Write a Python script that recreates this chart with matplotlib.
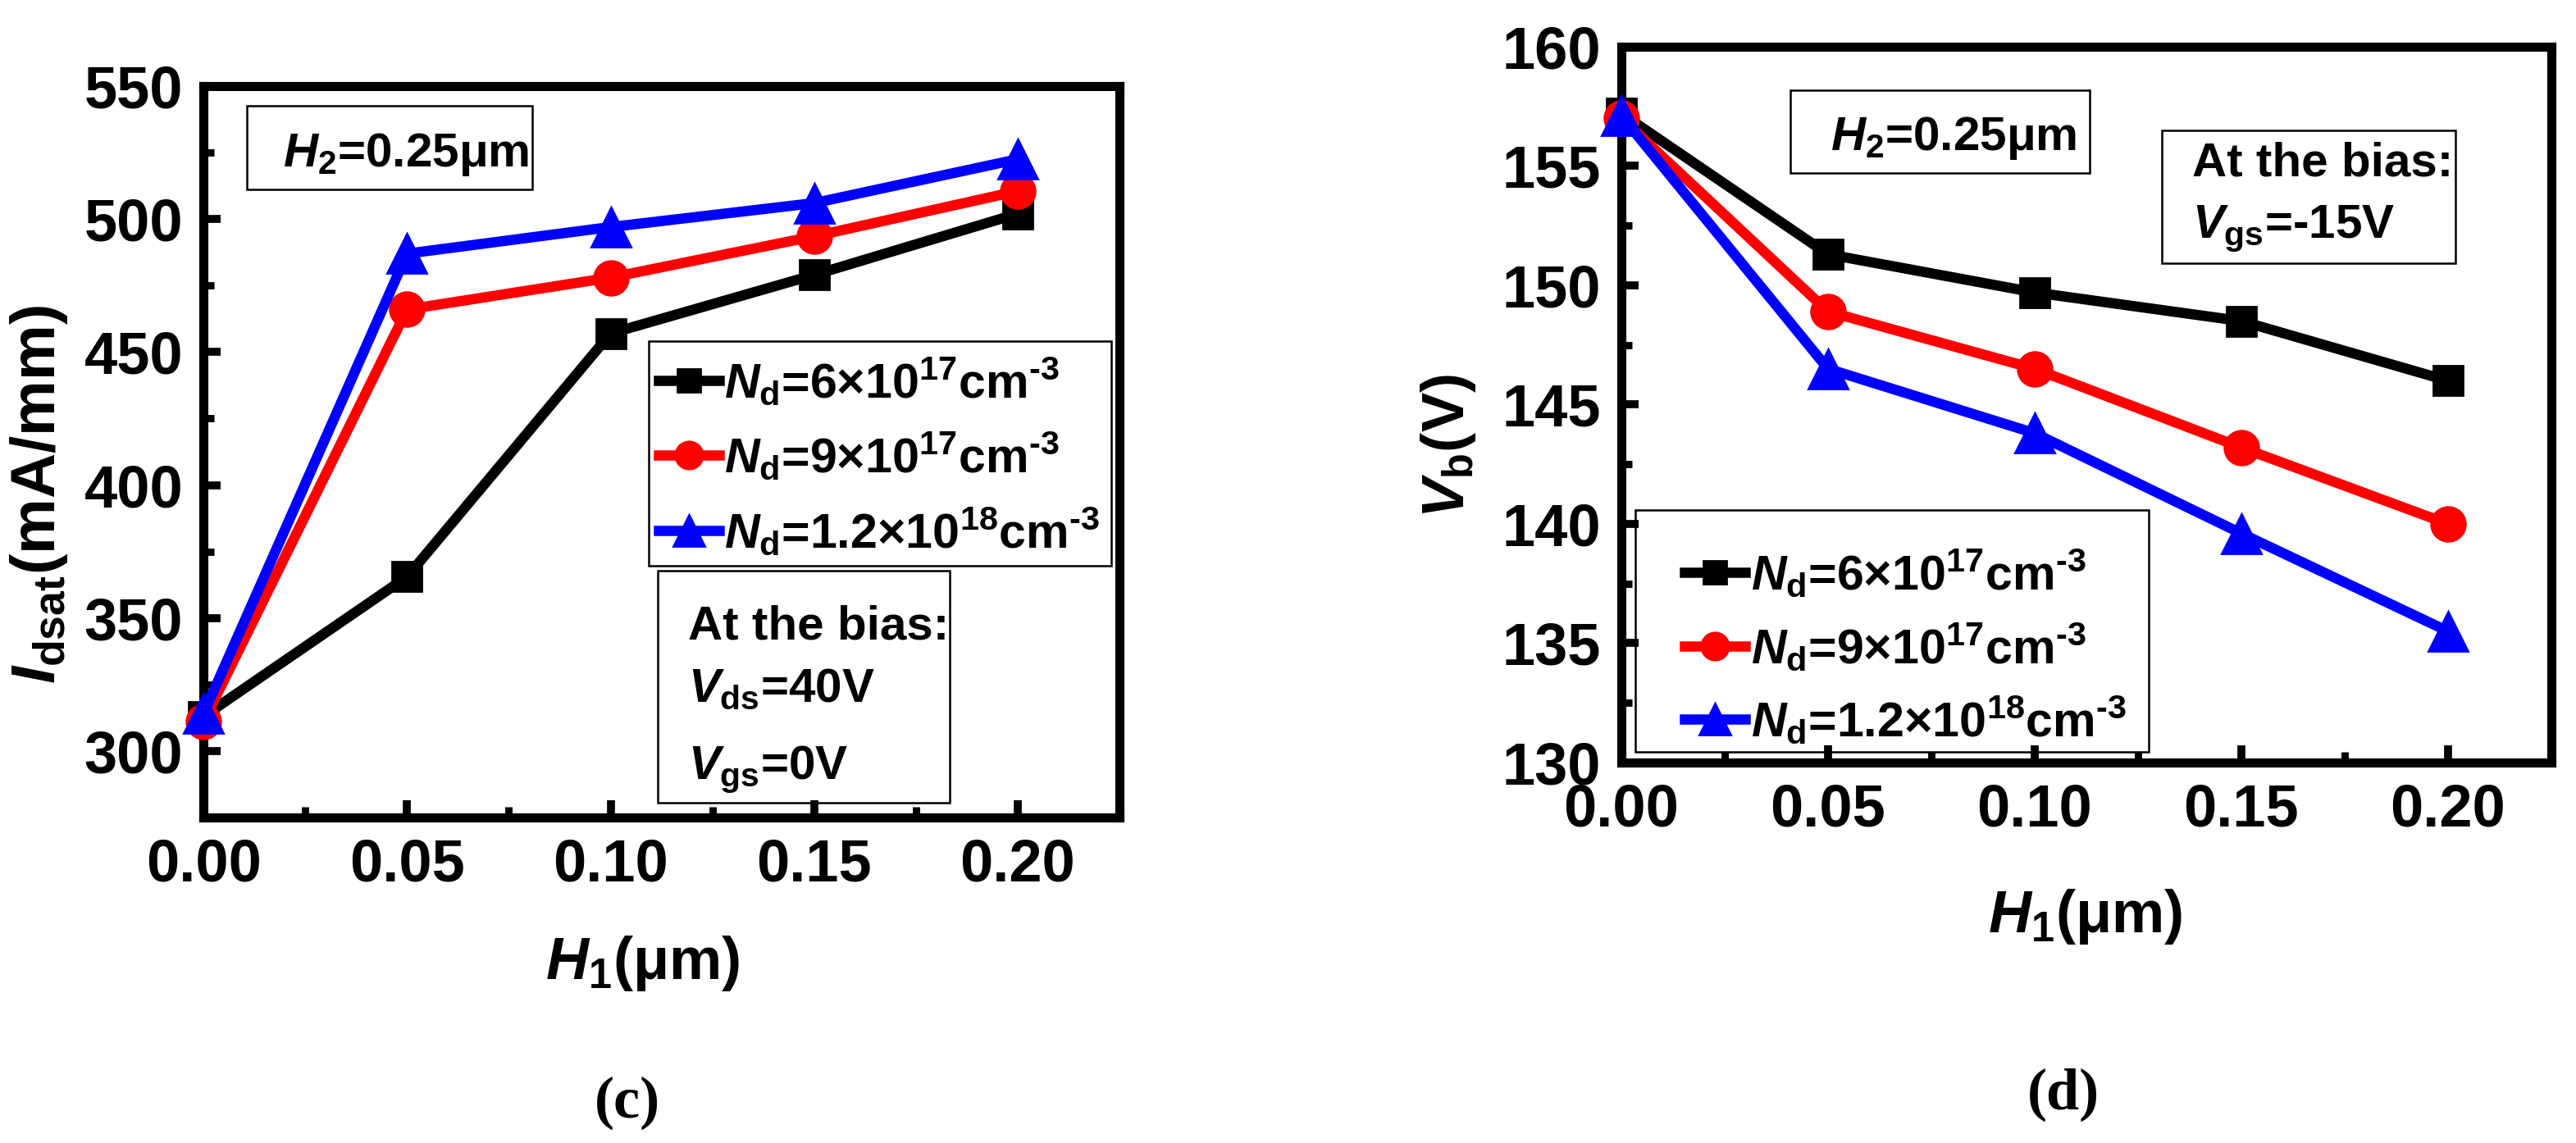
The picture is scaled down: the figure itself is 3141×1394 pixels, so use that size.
import matplotlib
matplotlib.use("Agg")
import matplotlib.pyplot as plt
from matplotlib import font_manager
from matplotlib.patches import Rectangle
from matplotlib.ticker import MultipleLocator, FormatStrFormatter

# pick a narrow bold sans if it is there
names = {f.name for f in font_manager.fontManager.ttflist}
FONT = "Liberation Sans Narrow" if "Liberation Sans Narrow" in names else "Liberation Sans"

plt.rcParams['font.family'] = [FONT, 'DejaVu Sans']
plt.rcParams['font.weight'] = 'bold'
plt.rcParams['axes.labelweight'] = 'bold'
plt.rcParams['mathtext.fontset'] = 'custom'
plt.rcParams['mathtext.rm'] = FONT + ':bold'
plt.rcParams['mathtext.bf'] = FONT + ':bold'
plt.rcParams['mathtext.it'] = FONT + ':italic:bold'
plt.rcParams['mathtext.default'] = 'rm'

# ---- data ----
h1 = [0.00, 0.05, 0.10, 0.15, 0.20]

idsat_6e17 = [313, 365.5, 457, 479, 502]
idsat_9e17 = [311, 466, 478, 493.5, 510.5]
idsat_12e18 = [314, 487, 497, 506, 522.5]

vb_6e17 = [157.2, 151.3, 149.7, 148.5, 146.0]
vb_9e17 = [157.0, 148.9, 146.5, 143.2, 140.0]
vb_12e18 = [157.1, 146.5, 143.8, 139.6, 135.5]

labels = [r'$\mathit{N}_{\mathrm{d}}$=6×10$^{17}$cm$^{\text{-3}}$',
          r'$\mathit{N}_{\mathrm{d}}$=9×10$^{17}$cm$^{\text{-3}}$',
          r'$\mathit{N}_{\mathrm{d}}$=1.2×10$^{18}$cm$^{\text{-3}}$']
colors = ['black', 'red', 'blue']
markers = ['s', 'o', '^']
msizes = [13, 15, 17]

TICK_FS = 26
TEXT_FS = 21
LEG_FS = 21.3

fig = plt.figure(figsize=(15.705, 6.97), dpi=200)
ax1 = fig.add_axes([0.0790, 0.2848, 0.3556, 0.6399])
ax2 = fig.add_axes([0.6294, 0.3329, 0.3610, 0.6263])


def style_axes(ax, ymaj, ymin):
    for s in ax.spines.values():
        s.set_linewidth(4)
    ax.set_xlim(0, 0.225)
    ax.xaxis.set_major_locator(MultipleLocator(0.05))
    ax.xaxis.set_minor_locator(MultipleLocator(0.025))
    ax.xaxis.set_major_formatter(FormatStrFormatter('%.2f'))
    ax.yaxis.set_major_locator(MultipleLocator(ymaj))
    ax.yaxis.set_minor_locator(MultipleLocator(ymin))
    ax.tick_params(which='both', direction='in', top=False, right=False)
    ax.tick_params(which='major', length=7.5, width=3.5, pad=9, labelsize=TICK_FS)
    ax.tick_params(which='minor', length=4.7, width=3.2)
    for lab in ax.get_xticklabels() + ax.get_yticklabels():
        lab.set_fontweight('bold')


def box(ax, x0, y0, x1, y1):
    ax.add_patch(Rectangle((x0, y0), x1 - x0, y1 - y0, transform=ax.transAxes,
                           fill=False, edgecolor='black', linewidth=0.9, zorder=5))


# ---- panel (c) ----
for ys, c, m, ms, lab in zip([idsat_6e17, idsat_9e17, idsat_12e18], colors, markers, msizes, labels):
    ax1.plot(h1, ys, color=c, marker=m, markersize=ms, linewidth=4.5, label=lab,
             clip_on=False, zorder=6)
ax1.set_ylim(275, 550)
style_axes(ax1, 50, 25)
ax1.set_xlabel(r'$\mathit{H}_{1}$(μm)', fontsize=TICK_FS)
ax1.xaxis.set_label_coords(0.479, -0.20)
ax1.set_ylabel(r'$\mathit{I}_{\mathrm{dsat}}$(mA/mm)', fontsize=27.5)
ax1.yaxis.set_label_coords(-0.180, 0.442)
ax1.xaxis.label.set_va('center')
ax1.yaxis.label.set_va('center')

box(ax1, 0.047, 0.859, 0.359, 0.973)
ax1.text(0.087, 0.890, r'$\mathit{H}_{2}$=0.25μm', transform=ax1.transAxes, fontsize=TEXT_FS)
box(ax1, 0.486, 0.344, 0.991, 0.651)
leg1 = ax1.legend(loc='center left', bbox_to_anchor=(0.497, 0.494), frameon=False,
                  fontsize=LEG_FS, borderpad=0, borderaxespad=0, handlelength=1.25,
                  handletextpad=0.1, labelspacing=0.47, markerscale=0.8)
box(ax1, 0.496, 0.020, 0.815, 0.337)
ax1.text(0.529, 0.244, 'At the bias:', transform=ax1.transAxes, fontsize=TEXT_FS)
ax1.text(0.529, 0.158, r'$\mathit{V}_{\mathrm{ds}}$=40V', transform=ax1.transAxes, fontsize=TEXT_FS)
ax1.text(0.529, 0.053, r'$\mathit{V}_{\mathrm{gs}}$=0V', transform=ax1.transAxes, fontsize=TEXT_FS)

# ---- panel (d) ----
for ys, c, m, ms, lab in zip([vb_6e17, vb_9e17, vb_12e18], colors, markers, msizes, labels):
    ax2.plot(h1, ys, color=c, marker=m, markersize=ms, linewidth=4.5, label=lab,
             clip_on=False, zorder=6)
ax2.set_ylim(130, 160)
style_axes(ax2, 5, 2.5)
ax2.set_xlabel(r'$\mathit{H}_{1}$(μm)', fontsize=TICK_FS)
ax2.xaxis.set_label_coords(0.499, -0.215)
ax2.set_ylabel(r'$\mathit{V}_{\mathrm{b}}$(V)', fontsize=TICK_FS)
ax2.yaxis.set_label_coords(-0.186, 0.442)
ax2.xaxis.label.set_va('center')
ax2.yaxis.label.set_va('center')

box(ax2, 0.182, 0.824, 0.504, 0.939)
ax2.text(0.225, 0.856, r'$\mathit{H}_{2}$=0.25μm', transform=ax2.transAxes, fontsize=TEXT_FS)
box(ax2, 0.581, 0.698, 0.897, 0.883)
ax2.text(0.614, 0.819, 'At the bias:', transform=ax2.transAxes, fontsize=TEXT_FS)
ax2.text(0.614, 0.733, r'$\mathit{V}_{\mathrm{gs}}$=-15V', transform=ax2.transAxes, fontsize=TEXT_FS)
box(ax2, 0.015, 0.015, 0.567, 0.353)
leg2 = ax2.legend(loc='center left', bbox_to_anchor=(0.068, 0.162), frameon=False,
                  fontsize=LEG_FS, borderpad=0, borderaxespad=0, handlelength=1.25,
                  handletextpad=0.12, labelspacing=0.44, markerscale=0.8)

for t in leg1.get_texts() + leg2.get_texts():
    t.set_fontweight('bold')

# captions
fig.text(0.2435, 0.035, '(c)', family=['Liberation Serif', 'DejaVu Serif'], fontweight='bold',
         fontsize=26, ha='center', va='center')
fig.text(0.801, 0.042, '(d)', family=['Liberation Serif', 'DejaVu Serif'], fontweight='bold',
         fontsize=26, ha='center', va='center')

fig.savefig('out.png', dpi=200)
